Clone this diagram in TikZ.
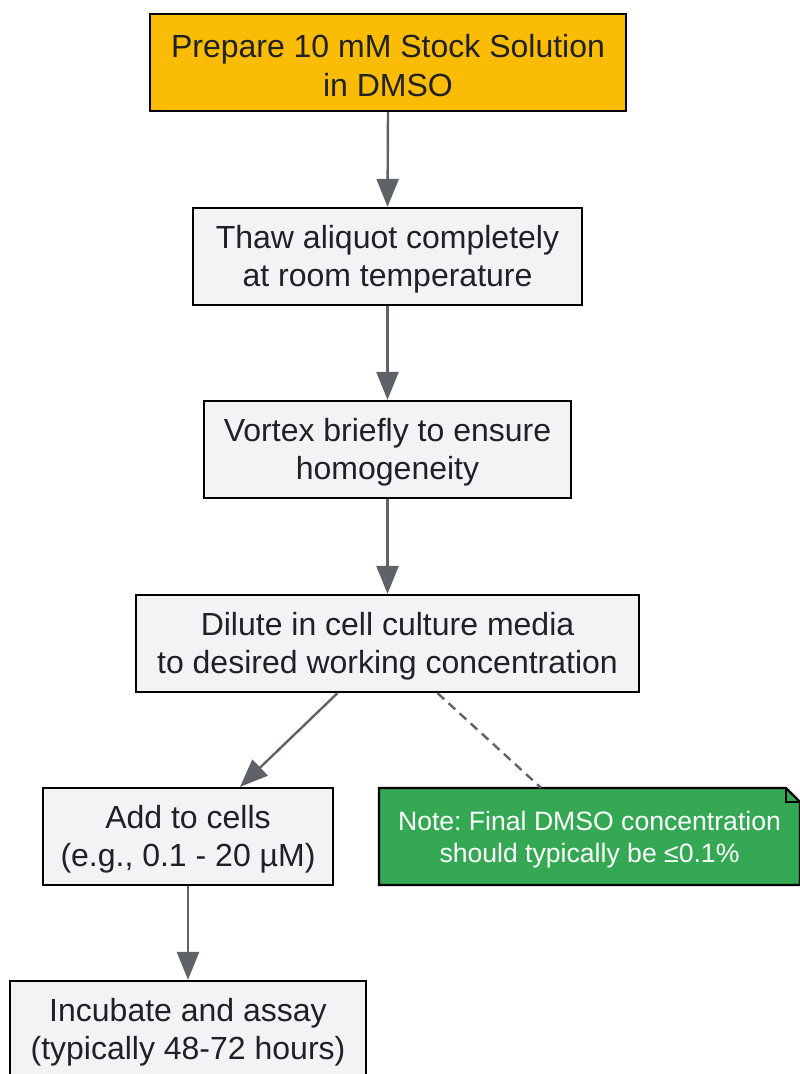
\documentclass[tikz,border=0pt]{standalone}
\usepackage{fontspec}
\setmainfont{Liberation Sans}
\usetikzlibrary{arrows.meta,calc}
\frenchspacing
\definecolor{boxfill}{HTML}{F1F3F4}
\definecolor{startfill}{HTML}{FBBC05}
\definecolor{notefill}{HTML}{34A853}
\definecolor{arrowgray}{HTML}{5F6368}
\definecolor{txt}{HTML}{202124}
\newcommand\lowerA{\rule{0pt}{29pt}}
\newcommand\lowerB{\rule{0pt}{25.5pt}}
\tikzset{
  stepbox/.style={draw=black, line width=2.2pt, fill=boxfill, text=txt, align=center,
    inner sep=0pt, minimum height=97pt, font=\fontsize{32}{38.4}\selectfont},
  startbox/.style={stepbox, fill=startfill},
  notebox/.style={inner sep=0pt, minimum height=97pt, minimum width=421pt, align=center,
    text=white, font=\fontsize{26.6}{32}\selectfont},
  flow/.style={draw=arrowgray, line width=2.4pt, -{Triangle[length=28pt,width=22pt]}},
  noteline/.style={draw=arrowgray, line width=2.4pt, dash pattern=on 9pt off 6pt}
}
\begin{document}
\begin{tikzpicture}[x=1pt,y=-1pt]
\useasboundingbox (0,0) rectangle (800,1074);
\node[startbox, minimum width=476pt] (prep) at (388,62.5) {\lowerA Prepare 10 mM Stock Solution\\in DMSO};
\node[stepbox, minimum width=389pt] (thaw) at (387.5,256.5) {\lowerA Thaw aliquot completely\\at room temperature};
\node[stepbox, minimum width=367pt] (vort) at (387.5,449.5) {\lowerA Vortex briefly to ensure\\homogeneity};
\node[stepbox, minimum width=503pt] (dil) at (387.5,643.5) {\lowerA Dilute in cell culture media\\to desired working concentration};
\node[stepbox, minimum width=290pt] (add) at (188,836.5) {\lowerA Add to cells\\(e.g., 0.1 - 20 µM)};
\node[stepbox, minimum width=356pt] (inc) at (188,1029.5) {\lowerA Incubate and assay\\(typically 48-72 hours)};
% note with folded corner
\coordinate (note) at (589.5,836.5);
\fill[notefill] ($(note)+(-210.5,-48.5)$) -- ($(note)+(196.5,-48.5)$) -- ($(note)+(210.5,-34.5)$) -- ($(note)+(210.5,48.5)$) -- ($(note)+(-210.5,48.5)$) -- cycle;
\node[notebox] (notetext) at (note) {\lowerB Note: Final DMSO concentration\\should typically be ≤0.1\%};
\draw[line width=2.2pt, line join=miter] ($(note)+(-210.5,-48.5)$) -- ($(note)+(196.5,-48.5)$) -- ($(note)+(210.5,-34.5)$) -- ($(note)+(210.5,48.5)$) -- ($(note)+(-210.5,48.5)$) -- cycle;
\draw[line width=1.6pt] ($(note)+(196.5,-48.5)$) -- ($(note)+(196.5,-34.5)$) -- ($(note)+(210.5,-34.5)$);
% connectors
\draw[flow] (prep.south) -- (thaw.north);
\draw[flow] (thaw.south) -- (vort.north);
\draw[flow] (vort.south) -- (dil.north);
\draw[flow] ($(dil.south)+(-50,0)$) -- ($(add.north)+(52,0)$);
\draw[noteline] ($(dil.south)+(50,0)$) -- ($(notetext.north)+(-48.5,0)$);
\draw[flow] (add.south) -- (inc.north);
\end{tikzpicture}
\end{document}
